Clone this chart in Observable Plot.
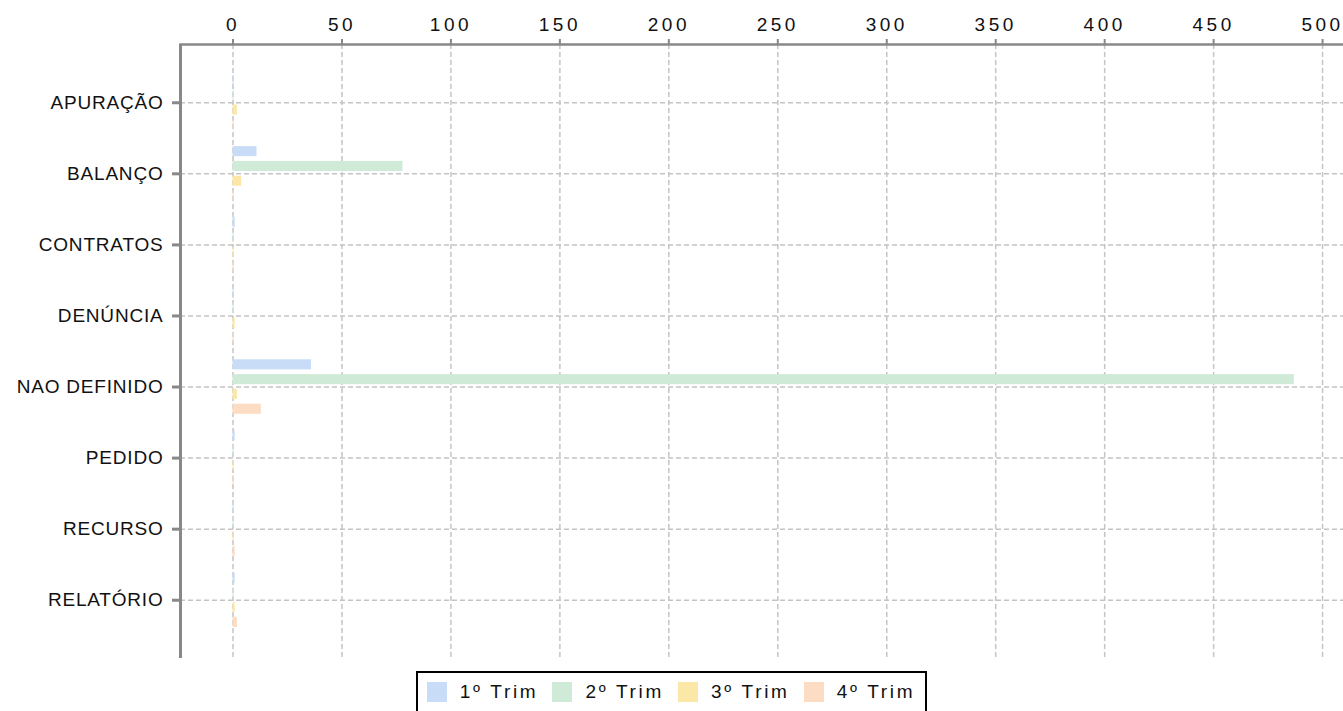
<!DOCTYPE html>
<html>
<head>
<meta charset="utf-8">
<script src="https://cdn.jsdelivr.net/npm/d3@7"></script>
<script src="https://cdn.jsdelivr.net/npm/@observablehq/plot@0.6"></script>
<style>
  html, body { margin: 0; padding: 0; background: #fff; }
  body { font-family: "Liberation Sans", Arial, sans-serif; width: 1343px; }
  #legend { display: flex; justify-content: center; margin-top: 11px; }
  #legend .box { border: 2px solid #000; padding: 8px 10px 8px 9px; display: flex; align-items: center; }
  #legend .item { display: flex; align-items: center; margin-right: 14px; }
  #legend .item:last-child { margin-right: 0; }
  #legend .sw { width: 20px; height: 20px; margin-right: 13px; }
  #legend .lb { font-size: 19px; letter-spacing: 2.7px; color: #111; line-height: 22px; }
</style>
</head>
<body>
<div id="chart"></div>
<div id="legend"><div class="box"></div></div>
<script>
// ---- data ----
const categories = ["APURAÇÃO", "BALANÇO", "CONTRATOS", "DENÚNCIA", "NAO DEFINIDO", "PEDIDO", "RECURSO", "RELATÓRIO"];
const series = ["1º Trim", "2º Trim", "3º Trim", "4º Trim"];
const trim1 = [0.5, 11, 1, 0.5, 36, 1, 0.5, 1];
const trim2 = [0.5, 78, 0.5, 0.5, 487, 0.5, 0.5, 0.5];
const trim3 = [2, 4, 0.5, 1, 2, 0.5, 0.5, 1];
const trim4 = [0.5, 0.5, 0.5, 0.5, 13, 0.5, 1, 2];
const seriesValues = [trim1, trim2, trim3, trim4];
const colors = ["#c9dcf7", "#cfead6", "#fce8a6", "#fcdcc3"];
const xTicks = [0, 50, 100, 150, 200, 250, 300, 350, 400, 450, 500];
const xDomain = [-24.1, 509.6];

// ---- layout ----
const W = 1343, H = 660;
const mTop = 44, mBottom = 2, mLeft = 180, mRight = 0;
const yPadOuter = 0.32;
const step = (H - mBottom - mTop) / (categories.length + 2 * yPadOuter);
const inner = d3.scaleBand().domain(series).range([0, step]).paddingInner(0.32).paddingOuter(0.56);

const rows = series.map((s, i) => categories.map((c, j) => ({category: c, series: s, value: seriesValues[i][j]})));

const gridStyle = {stroke: "#c4c4c4", strokeOpacity: 1, strokeWidth: 1.5, strokeDasharray: "5,3"};

const marks = [
  Plot.gridX({ticks: xTicks, ...gridStyle}),
  Plot.gridY({...gridStyle}),
  ...series.map((s, i) => Plot.barX(rows[i], {
    x: "value", y: "category", fill: colors[i],
    insetTop: inner(s), insetBottom: step - inner(s) - inner.bandwidth()
  })),
  Plot.ruleX([xDomain[0]], {stroke: "#888", strokeWidth: 3}),
  Plot.frame({anchor: "top", stroke: "#888", strokeWidth: 2.5}),
  Plot.axisX({anchor: "top", ticks: xTicks, label: null, tickSize: 6, tickPadding: 8, stroke: "#888", strokeWidth: 2, fontSize: 19, fill: "#111"}),
  Plot.axisY({anchor: "left", label: null, tickSize: 8, tickPadding: 9, stroke: "#888", strokeWidth: 3, fontSize: 19, fill: "#111"})
];

const chart = Plot.plot({
  width: W, height: H,
  marginTop: mTop, marginBottom: mBottom, marginLeft: mLeft, marginRight: mRight,
  style: {fontFamily: '"Liberation Sans", Arial, sans-serif', background: "#fff", overflow: "visible"},
  x: {domain: xDomain, axis: null},
  y: {domain: categories, paddingInner: 0, paddingOuter: yPadOuter, align: 0.5, round: false, axis: null},
  marks
});
document.getElementById("chart").appendChild(chart);

d3.select(chart).selectAll('g[aria-label="x-axis tick label"] text').style("letter-spacing", "3.5px");
d3.select(chart).selectAll('g[aria-label="y-axis tick label"] text').style("letter-spacing", "0.8px");

// ---- legend ----
const box = d3.select("#legend .box");
series.forEach((s, i) => {
  const it = box.append("div").attr("class", "item");
  it.append("div").attr("class", "sw").style("background", colors[i]);
  it.append("span").attr("class", "lb").text(s);
});
</script>
</body>
</html>
